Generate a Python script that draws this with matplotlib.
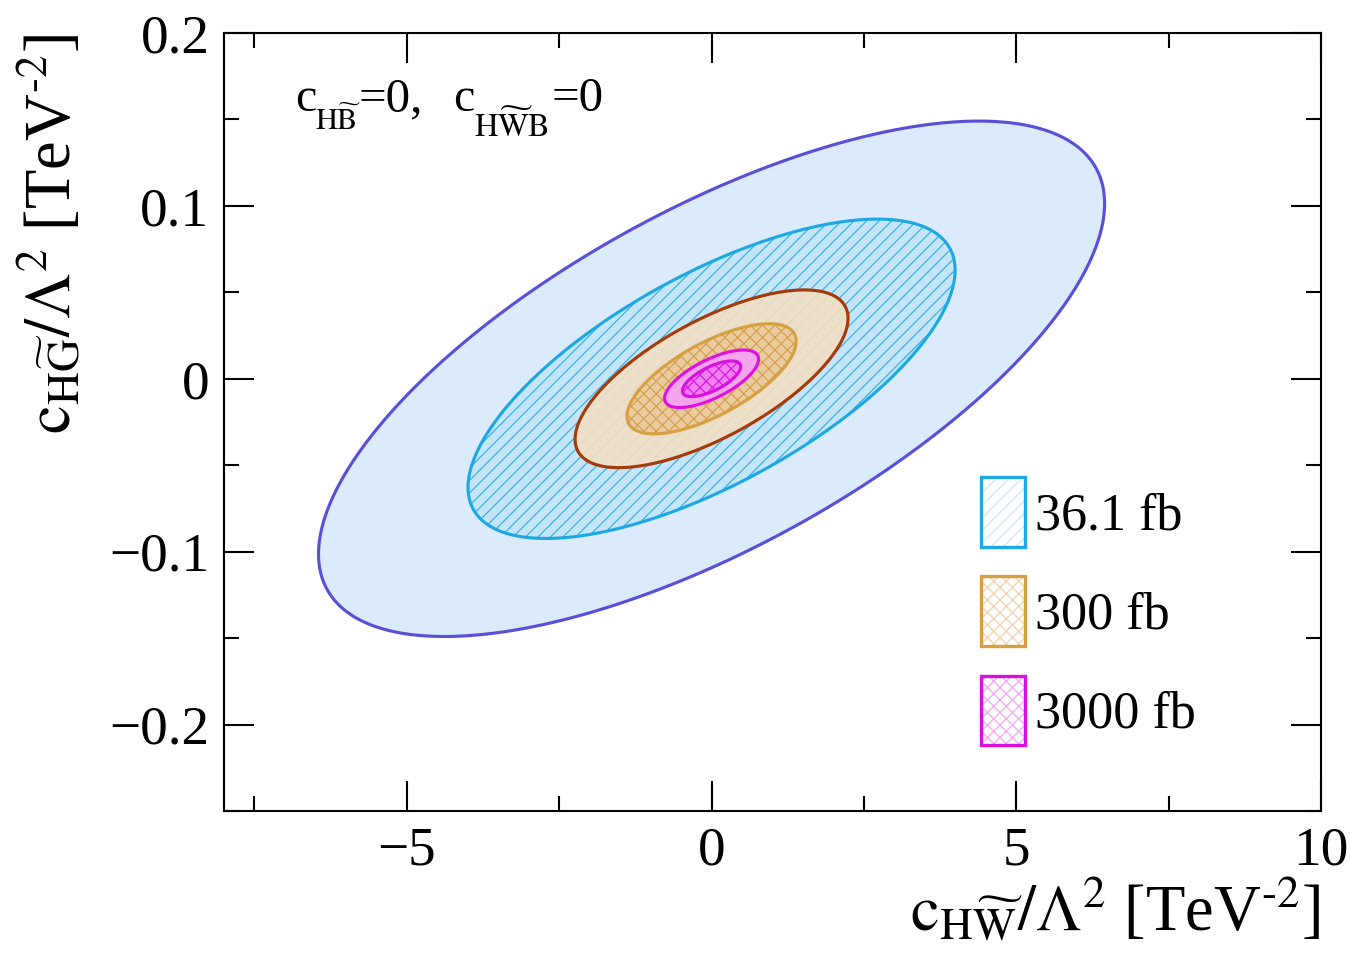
import numpy as np
import matplotlib
matplotlib.use("Agg")
import matplotlib.pyplot as plt
from matplotlib.patches import Patch

plt.rcParams['font.family'] = ['Liberation Serif', 'DejaVu Serif']
plt.rcParams['mathtext.fontset'] = 'stix'
plt.rcParams['hatch.linewidth'] = 0.6

W, H = 1350, 961

# estimated gaussian widths of the likelihood per luminosity
lumi_labels = ['36.1 fb', '300 fb', '3000 fb']
sigma_x = [2.635, 0.915, 0.315]
sigma_y = [0.0609, 0.0210, 0.0068]
rho = [0.68, 0.68, 0.68]
cl_levels = [2.30, 5.99]  # 68% / 95% CL for 2 parameters

outer_line = ['#5a50d8', '#a53a08', '#e010e0']
outer_fill = ['#dcebfc', '#f3dfc3', '#f7a2f7']
inner_line = ['#1ea8e2', '#d6a040', '#d810e0']
inner_fill = ['#c5e5f9', '#ebcca0', '#f27ef2']
hatch_col = ['#3cb2ea', '#d4a050', '#d020d8']
hatches = ['////', 'xxxx', 'xxxx']
legend_hatch = ['#cfe6f8', '#efd2ac', '#f4a8f4']

fig = plt.figure(figsize=(W / 150, H / 150), dpi=150)
ax = fig.add_axes([224 / W, 1 - 811 / H, 1097 / W, 778 / H])

gx = np.linspace(-8, 10, 1500)
gy = np.linspace(-0.25, 0.2, 1200)
X, Y = np.meshgrid(gx, gy)

for i in range(3):
    sx, sy, r = sigma_x[i], sigma_y[i], rho[i]
    q = (X**2 / sx**2 - 2 * r * X * Y / (sx * sy) + Y**2 / sy**2) / (1 - r**2)
    a_out = 0.9 if i > 0 else 1.0
    ax.contourf(X, Y, q, levels=[cl_levels[0], cl_levels[1]], colors=[outer_fill[i]], alpha=a_out)
    ax.contourf(X, Y, q, levels=[0, cl_levels[0]], colors=[inner_fill[i]])
    with plt.rc_context({'hatch.color': hatch_col[i]}):
        ax.contourf(X, Y, q, levels=[0, cl_levels[0]], colors='none', hatches=[hatches[i]])
    ax.contour(X, Y, q, levels=[cl_levels[1]], colors=[outer_line[i]], linewidths=1.5)
    ax.contour(X, Y, q, levels=[cl_levels[0]], colors=[inner_line[i]], linewidths=1.5)

ax.set_xlim(-8, 10)
ax.set_ylim(-0.25, 0.2)
ax.set_xticks([-5, 0, 5, 10])
ax.set_xticks([-7.5, -2.5, 2.5, 7.5], minor=True)
ax.set_yticks([-0.2, -0.1, 0, 0.1, 0.2])
ax.set_yticklabels(['\u22120.2', '\u22120.1', '0', '0.1', '0.2'])
ax.set_yticks([-0.25, -0.15, -0.05, 0.05, 0.15], minor=True)
ax.tick_params(which='both', direction='in', top=True, right=True, width=1, labelsize=26.5)
ax.tick_params(which='major', length=14.4)
ax.tick_params(which='minor', length=7.2)
ax.tick_params(axis='x', pad=7)
ax.tick_params(axis='y', pad=7)
for s in ax.spines.values():
    s.set_linewidth(1.0)

ax.set_xlabel(r'$\mathrm{c}_{\mathrm{H}\widetilde{\mathrm{W}}}/\Lambda^{2}$ [TeV$^{\text{-2}}$]',
              fontsize=31, loc='right')
ax.xaxis.set_label_coords(1.0, -0.085)
ax.set_ylabel(r'$\mathrm{c}_{\mathrm{H}\widetilde{\mathrm{G}}}/\Lambda^{2}$ [TeV$^{\text{-2}}$]',
              fontsize=31, loc='top')
ax.yaxis.set_label_coords(-0.127, 1.0)


def px(x, y):
    return x / W, 1 - y / H


# c_HB~=0,  c_HW~B=0 with deep ROOT-style subscripts
fig.text(*px(295, 111), 'c', fontsize=23, va='baseline')
fig.text(*px(315, 130), r'$\mathrm{H}\widetilde{\mathrm{B}}$', fontsize=14.5, va='baseline')
fig.text(*px(359, 111), '=0,', fontsize=23.5, va='baseline')
fig.text(*px(453, 111), 'c', fontsize=23, va='baseline')
fig.text(*px(474, 137), r'$\mathrm{H}\widetilde{\mathrm{W}}\mathrm{B}$', fontsize=15.5, va='baseline')
fig.text(*px(551, 111), '=0', fontsize=23.5, va='baseline')

handles = []
for i in range(3):
    h_fill = Patch(facecolor='white', edgecolor=legend_hatch[i], hatch=hatches[i], lw=0)
    h_edge = Patch(facecolor='none', edgecolor=inner_line[i], lw=1.6)
    handles.append((h_fill, h_edge))
ax.legend(handles, lumi_labels, loc='upper left', bbox_to_anchor=(0.69, 0.429),
          frameon=False, fontsize=25, handlelength=0.85, handleheight=1.69,
          handletextpad=0.18, labelspacing=0.56, borderaxespad=0, borderpad=0)

fig.savefig('out.png', dpi=150)
